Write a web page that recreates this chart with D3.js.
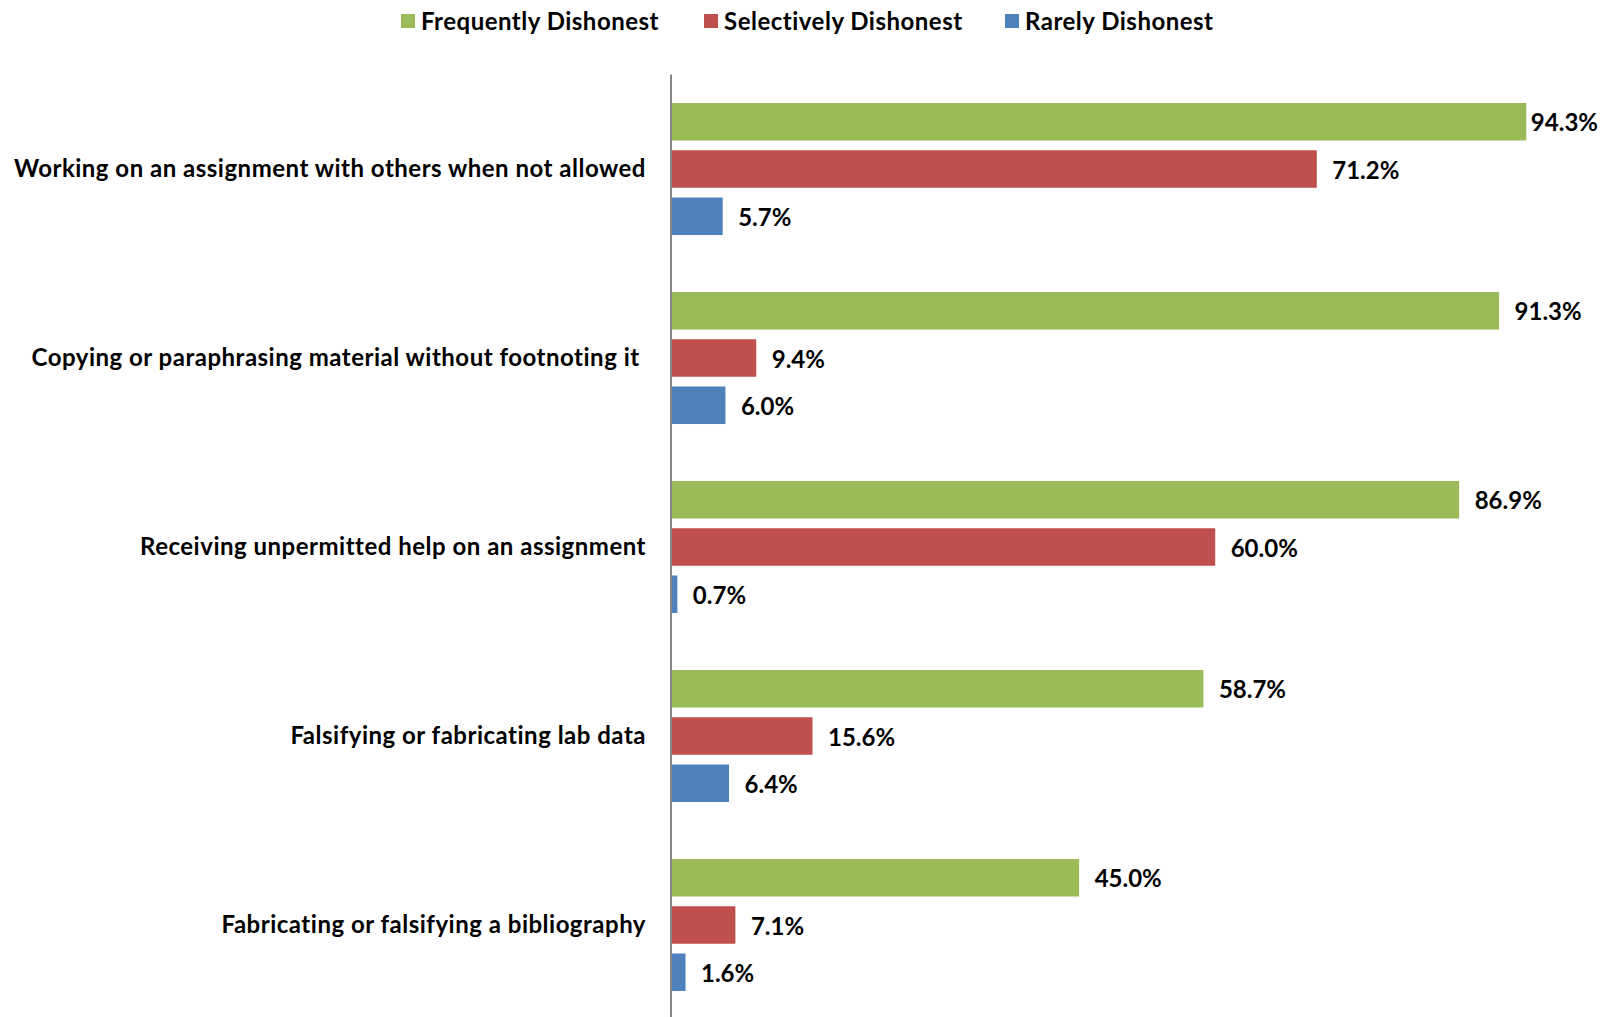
<!DOCTYPE html>
<html>
<head>
<meta charset="utf-8">
<script src="https://cdn.jsdelivr.net/npm/d3@7"></script>
<style>
  html, body { margin: 0; padding: 0; background: #ffffff; }
  svg { display: block; }
  text { font-family: Lato, "Open Sans", sans-serif; font-weight: 700; fill: #000; white-space: pre; }
</style>
</head>
<body>
<svg id="chart" width="1608" height="1017"></svg>
<script>
// Behaviour categories, top to bottom
const categories = [
  "Working on an assignment with others when not allowed",
  "Copying or paraphrasing material without footnoting it ",
  "Receiving unpermitted help on an assignment",
  "Falsifying or fabricating lab data",
  "Fabricating or falsifying a bibliography"
];

// Series names (legend order)
const seriesNames = ["Frequently Dishonest", "Selectively Dishonest", "Rarely Dishonest"];
const seriesColors = ["#9BBB59", "#C0504D", "#4F81BD"];

// Percent of respondents in each group
const frequentValues = [94.3, 91.3, 86.9, 58.7, 45.0];
const selectiveValues = [71.2, 9.4, 60.0, 15.6, 7.1];
const rareValues = [5.7, 6.0, 0.7, 6.4, 1.6];

const seriesValues = [frequentValues, selectiveValues, rareValues];

const rows = categories.map((c, i) => ({
  category: c,
  values: seriesNames.map((s, j) => ({ series: s, value: seriesValues[j][i], color: seriesColors[j] }))
}));

const W = 1608;
const svg = d3.select("#chart");
const labelSize = 24;
const labelSpacing = "0.5px";

const x = d3.scaleLinear().domain([0, 100]).range([671, 1578]);
const y0 = d3.scaleBand().domain(categories).range([74.5, 1019.5]).padding(0);
const y1 = d3.scaleBand().domain(seriesNames).range([0, y0.bandwidth()])
  .paddingInner(0.206).paddingOuter(0.603);

// Bars
const groups = svg.append("g").selectAll("g")
  .data(rows).join("g")
  .attr("transform", d => `translate(0,${y0(d.category)})`);

groups.selectAll("rect")
  .data(d => d.values).join("rect")
  .attr("x", x(0))
  .attr("y", d => y1(d.series))
  .attr("width", d => x(d.value) - x(0))
  .attr("height", y1.bandwidth())
  .attr("fill", d => d.color);

// Value labels, kept inside the drawing area when a bar runs near the edge
groups.selectAll("text.val")
  .data(d => d.values).join("text")
  .attr("class", "val")
  .attr("y", d => y1(d.series) + y1.bandwidth() / 2)
  .attr("dy", "0.4em")
  .style("font-size", "24px")
  .text(d => d.value.toFixed(1) + "%")
  .attr("x", function(d) {
    const w = this.getComputedTextLength();
    return Math.min(x(d.value) + 15.5, W - 10 - w);
  });

// Category axis
const axis = svg.append("g")
  .attr("transform", `translate(${x(0)},0)`)
  .call(d3.axisLeft(y0).tickSize(0).tickPadding(25));
axis.select(".domain").attr("stroke", "#868686").attr("stroke-width", 2)
  .attr("d", `M0,${y0.range()[0]}V${y0.range()[1]}`);
axis.selectAll(".tick text")
  .style("font-size", labelSize + "px")
  .style("letter-spacing", labelSpacing)
  .style("font-family", "Lato, 'Open Sans', sans-serif")
  .style("font-weight", 700)
  .attr("fill", "#000");

// Legend
const legendX = [401, 704, 1005];
const legend = svg.append("g").selectAll("g")
  .data(seriesNames).join("g")
  .attr("transform", (d, i) => `translate(${legendX[i]},14)`);
legend.append("rect")
  .attr("width", 14).attr("height", 14)
  .attr("fill", (d, i) => seriesColors[i]);
legend.append("text")
  .attr("x", 20).attr("y", 7).attr("dy", "0.36em")
  .style("font-size", labelSize + "px")
  .style("letter-spacing", labelSpacing)
  .text(d => d);
</script>
</body>
</html>
